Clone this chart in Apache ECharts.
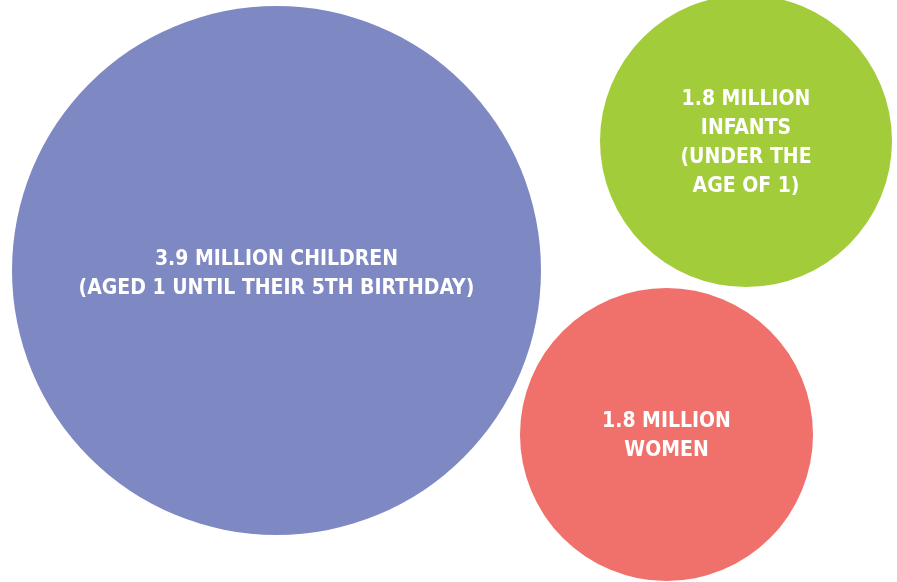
<!DOCTYPE html>
<html>
<head>
<meta charset="utf-8">
<script src="https://cdn.jsdelivr.net/npm/echarts@6/dist/echarts.min.js"></script>
<style>
html,body{margin:0;padding:0;background:#fff;}
#chart{width:897px;height:582px;}
</style>
</head>
<body>
<div id="chart"></div>
<script>
// Group labels (as printed in the chart)
const labels = [
  '3.9 MILLION CHILDREN\n(AGED 1 UNTIL THEIR 5TH BIRTHDAY)',
  '1.8 MILLION\nINFANTS\n(UNDER THE\nAGE OF 1)',
  '1.8 MILLION\nWOMEN'
];
// Values in millions
const values = [3.9, 1.8, 1.8];
// Bubble centres and radii in chart units (x 0..897, y 0..582 from top)
const centerX = [276.5, 746, 666.5];
const centerY = [270.5, 141, 434.5];
const radius = [264.5, 146, 146.5];

const colors = ['#7e88c3', '#a2cc3a', '#f0716b'];
const labelShift = [3.5, 2, 2];

const data = labels.map((l, i) => [centerX[i], centerY[i], radius[i], values[i]]);

const chart = echarts.init(document.getElementById('chart'), null, {renderer: 'canvas'});
chart.setOption({
  animation: false,
  grid: {left: 0, right: 0, top: 0, bottom: 0},
  xAxis: {type: 'value', min: 0, max: 897, show: false},
  yAxis: {type: 'value', min: 0, max: 582, inverse: true, show: false},
  series: [{
    type: 'custom',
    coordinateSystem: 'cartesian2d',
    data: data,
    renderItem: function (params, api) {
      const c = api.coord([api.value(0), api.value(1)]);
      const r = api.size([api.value(2), 0])[0];
      const i = params.dataIndex;
      return {
        type: 'circle',
        shape: {cx: c[0], cy: c[1], r: r},
        style: {fill: colors[i]},
        textContent: {
          style: {
            text: labels[i],
            fill: '#ffffff',
            fontFamily: 'DejaVu Sans Condensed',
            fontWeight: 'bold',
            fontSize: 21,
            lineHeight: 29,
            align: 'center',
            verticalAlign: 'middle'
          }
        },
        textConfig: {position: 'inside', offset: [0, labelShift[i]]}
      };
    }
  }]
});
</script>
</body>
</html>
